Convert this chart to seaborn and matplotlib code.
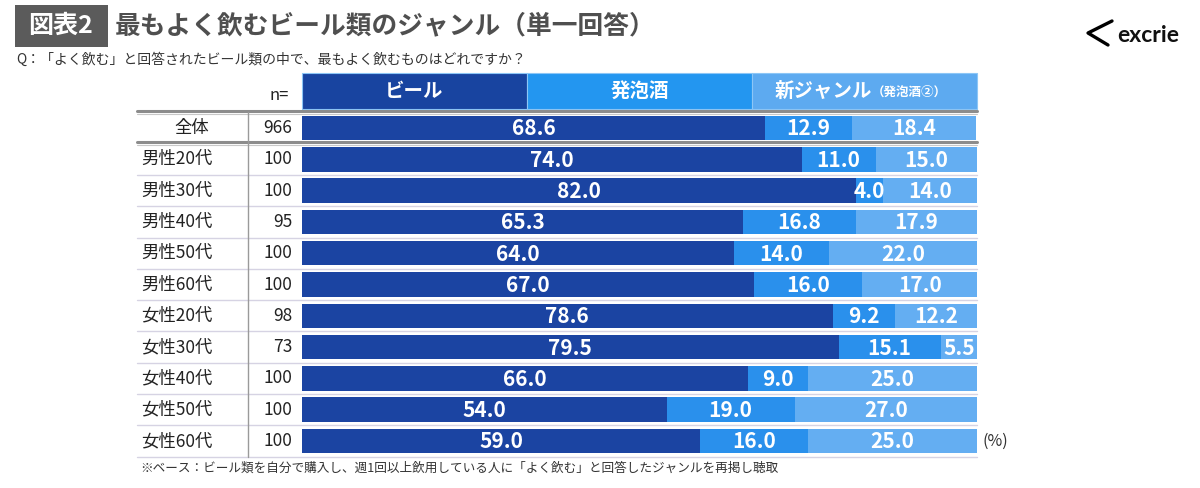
import numpy as np
import pandas as pd
import matplotlib
matplotlib.use('Agg')
import matplotlib.pyplot as plt
import matplotlib.transforms as mtransforms
from matplotlib.lines import Line2D
from matplotlib.patches import Rectangle
import seaborn as sns

# Data
groups = ['全体', '男性20代', '男性30代', '男性40代', '男性50代', '男性60代',
          '女性20代', '女性30代', '女性40代', '女性50代', '女性60代']
n_values = [966, 100, 100, 95, 100, 100, 98, 73, 100, 100, 100]
beer = [68.6, 74.0, 82.0, 65.3, 64.0, 67.0, 78.6, 79.5, 66.0, 54.0, 59.0]
happoshu = [12.9, 11.0, 4.0, 16.8, 14.0, 16.0, 9.2, 15.1, 9.0, 19.0, 16.0]
new_genre = [18.4, 15.0, 14.0, 17.9, 22.0, 17.0, 12.2, 5.5, 25.0, 27.0, 25.0]
series_names = ['ビール', '発泡酒', '新ジャンル']

sns.set_theme(style='white')
plt.rcParams['font.family'] = ['Noto Sans CJK JP', 'DejaVu Sans']

df = pd.DataFrame({'group': groups, 'n': n_values, 'beer': beer,
                   'happoshu': happoshu, 'new': new_genre})
df['c1'] = df['beer']
df['c2'] = df['beer'] + df['happoshu']
df['c3'] = df['c2'] + df['new']

colors = ['#1B44A2', '#2A90EC', '#64AEF2']
header_colors = ['#1844A0', '#2396F0', '#5DAAF0']

W, H = 1200, 488
fig = plt.figure(figsize=(12, 4.88), dpi=100)
fig.patch.set_facecolor('white')

# bar axes: x from 302px to 977px, rows centred 128..441px (pitch 31.3)
pitch = 31.3
y_top_px = 128 - 1.75 * pitch
y_bot_px = 128 + 10.5 * pitch
ax = fig.add_axes([302 / W, 1 - y_bot_px / H, 675 / W, (y_bot_px - y_top_px) / H])

# stacked bars: draw cumulative totals from largest to smallest
for col, c in zip(['c3', 'c2', 'c1'], colors[::-1]):
    sns.barplot(data=df, x=col, y='group', orient='h', color=c, width=0.78,
                saturation=1, ax=ax, edgecolor='none')

ax.set_xlim(0, 100)
ax.set_ylim(10.5, -1.75)
ax.axis('off')

# header boxes
for i, (name, c) in enumerate(zip(series_names, header_colors)):
    ax.add_patch(Rectangle((i * 100 / 3, -1.18 - 0.575), 100 / 3, 1.15,
                           facecolor=c, edgecolor='#8CC6F6', lw=0.8, clip_on=False))
ax.text(100 / 6, -1.18, 'ビール', color='white', fontsize=14, fontweight='bold',
        ha='center', va='center')
ax.text(50, -1.18, '発泡酒', color='white', fontsize=14, fontweight='bold',
        ha='center', va='center')
ax.text(77.2, -1.18, '新ジャンル', color='white', fontsize=14, fontweight='bold',
        ha='center', va='center')
ax.text(90.0, -1.15, '（発泡酒②）', color='white', fontsize=9, fontweight='bold',
        ha='center', va='center')

# value labels
for i, row in df.iterrows():
    segs = [(0, row['beer']), (row['c1'], row['happoshu']), (row['c2'], row['new'])]
    for left, val in segs:
        ax.text(left + val / 2, i + 0.03, f'{val:.1f}', color='white', fontsize=15,
                fontweight='bold', ha='center', va='center')

ax.text(100.8, 10, '(%)', color='#333333', fontsize=11.5, ha='left', va='center')

# table part (figure x, data y)
trans = mtransforms.blended_transform_factory(fig.transFigure, ax.transData)
x_left, x_vline, x_right = 137 / W, 248 / W, 977 / W

for i, (g, n) in enumerate(zip(groups, n_values)):
    if i == 0:
        fig.text(192 / W, i, g, transform=trans, fontsize=12.5, color='#222222',
                 ha='center', va='center')
    else:
        fig.text(141 / W, i, g, transform=trans, fontsize=12.5, color='#222222',
                 ha='left', va='center')
    fig.text(292 / W, i, str(n), transform=trans, fontsize=12.5, color='#222222',
             ha='right', va='center')
fig.text(289 / W, -1.05, 'n=', transform=trans, fontsize=12, color='#222222',
         ha='right', va='center')

# row separators
for b in [-0.5, 0.5]:
    fig.add_artist(Line2D([x_left, x_right], [b - 0.04, b - 0.04], transform=trans,
                          color='#8C8C8C', lw=2.2))
    fig.add_artist(Line2D([x_left, x_right], [b + 0.05, b + 0.05], transform=trans,
                          color='#C8C8C8', lw=0.8))
for b in np.arange(1.5, 10.5, 1.0):
    fig.add_artist(Line2D([x_left, x_right], [b, b], transform=trans,
                          color='#D6D3E3', lw=1.0))
fig.add_artist(Line2D([x_left, x_right], [10.5, 10.5], transform=trans,
                      color='#D6D3E3', lw=1.0))
fig.add_artist(Line2D([x_vline, x_vline], [-0.5, 10.5], transform=trans,
                      color='#9A9A9A', lw=1.0))

# title
fig.add_artist(Rectangle((15 / W, 1 - 47 / H), 93 / W, 42 / H, transform=fig.transFigure,
                         facecolor='#5B5B5B', edgecolor='none'))
fig.text(61 / W, 1 - 26 / H, '図表2', color='white', fontsize=18, fontweight='bold',
         ha='center', va='center')
fig.text(115 / W, 1 - 26 / H, '最もよく飲むビール類のジャンル（単一回答）', color='#4F4F4F',
         fontsize=18.5, fontweight='bold', ha='left', va='center')
fig.text(16 / W, 1 - 60 / H, 'Q：「よく飲む」と回答されたビール類の中で、最もよく飲むものはどれですか？',
         color='#333333', fontsize=10, ha='left', va='center')
fig.text(140 / W, 1 - 468 / H,
         '※ベース：ビール類を自分で購入し、週1回以上飲用している人に「よく飲む」と回答したジャンルを再掲し聴取',
         color='#333333', fontsize=9.1, ha='left', va='center')

# logo
fig.add_artist(Line2D([1112 / W, 1088 / W, 1108 / W], [1 - 21 / H, 1 - 33 / H, 1 - 45 / H],
                      transform=fig.transFigure, color='black', lw=2.4,
                      solid_capstyle='round'))
fig.text(1117 / W, 1 - 35 / H, 'excrie', color='#111111', fontsize=16.5, fontweight='bold',
         family=['Lato', 'DejaVu Sans'], ha='left', va='center')

fig.savefig('out.png', dpi=100, facecolor='white')
